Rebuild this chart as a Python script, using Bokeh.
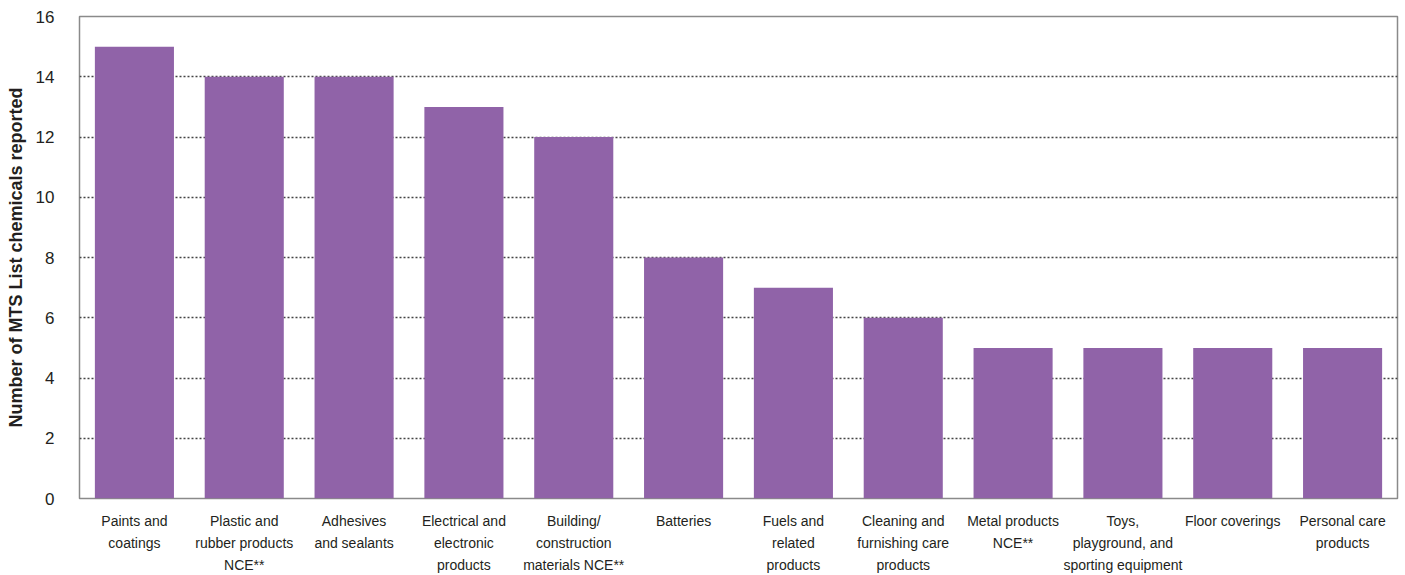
from bokeh.plotting import figure
from bokeh.models import ColumnDataSource, FixedTicker
from bokeh.embed import file_html
from bokeh.resources import INLINE

categories = [
    "Paints and\ncoatings",
    "Plastic and\nrubber products\nNCE**",
    "Adhesives\nand sealants",
    "Electrical and\nelectronic\nproducts",
    "Building/\nconstruction\nmaterials NCE**",
    "Batteries",
    "Fuels and\nrelated\nproducts",
    "Cleaning and\nfurnishing care\nproducts",
    "Metal products\nNCE**",
    "Toys,\nplayground, and\nsporting equipment",
    "Floor coverings",
    "Personal care\nproducts",
]
counts = [15, 14, 14, 13, 12, 8, 7, 6, 5, 5, 5, 5]
y_ticks = [0, 2, 4, 6, 8, 10, 12, 14, 16]

FONT = "'Liberation Sans', Arial, sans-serif"
TEXT = "#231f20"

src = ColumnDataSource(dict(cat=categories, n=counts))

p = figure(
    x_range=categories, y_range=(0, 16),
    frame_width=1318, frame_height=482,
    min_border_left=79, min_border_right=6, min_border_top=16, min_border_bottom=75,
    output_backend="svg", toolbar_location=None,
)
p.vbar(x="cat", top="n", width=0.72, source=src, color="#9063a8", line_color=None)

p.outline_line_color = "#8a8a8a"
p.outline_line_width = 1.5

p.xgrid.grid_line_color = None
p.ygrid.grid_line_color = "#444444"
p.ygrid.grid_line_dash = "2 2"
p.ygrid.grid_line_width = 1.6
p.ygrid.level = "underlay"

p.yaxis.ticker = FixedTicker(ticks=y_ticks)
p.yaxis.axis_line_color = None
p.yaxis.major_tick_line_color = None
p.yaxis.minor_tick_line_color = None
p.yaxis.major_label_standoff = 19
p.yaxis.major_label_text_font = FONT
p.yaxis.major_label_text_font_size = "17px"
p.yaxis.major_label_text_color = TEXT
p.yaxis.axis_label = "Number of MTS List chemicals reported"
p.yaxis.axis_label_text_font = FONT
p.yaxis.axis_label_text_font_style = "bold"
p.yaxis.axis_label_text_font_size = "18px"
p.yaxis.axis_label_text_color = TEXT
p.yaxis.axis_label_standoff = 7

p.xaxis.axis_line_color = None
p.xaxis.major_tick_line_color = None
p.xaxis.minor_tick_line_color = None
p.xaxis.major_label_standoff = 8
p.xaxis.major_label_text_font = FONT
p.xaxis.major_label_text_font_size = "14px"
p.xaxis.major_label_text_color = TEXT
p.xaxis.major_label_text_line_height = 1.4
p.xaxis.major_label_orientation = "horizontal"

open("out.html", "w").write(file_html(p, INLINE))
